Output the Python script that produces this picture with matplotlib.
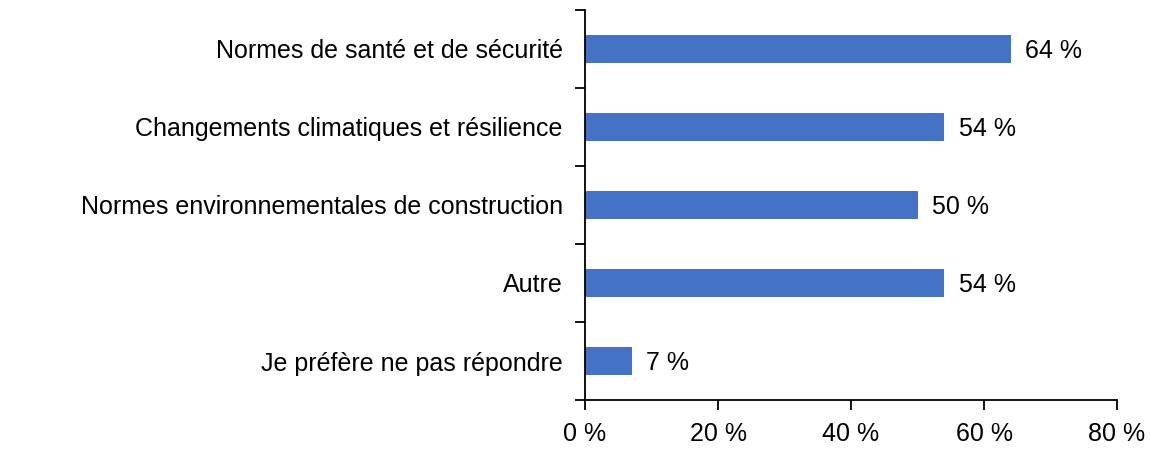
import matplotlib
matplotlib.use("Agg")
import matplotlib.pyplot as plt
from matplotlib.ticker import FixedLocator

categories = ["Normes de santé et de sécurité",
              "Changements climatiques et résilience",
              "Normes environnementales de construction",
              "Autre",
              "Je préfère ne pas répondre"]
values = [64, 54, 50, 54, 7]
xticks = [0, 20, 40, 60, 80]
xtick_labels = ["0 %", "20 %", "40 %", "60 %", "80 %"]

plt.rcParams['font.family'] = ['Liberation Sans', 'DejaVu Sans']
FS = 18

fig = plt.figure(figsize=(11.7, 4.68), dpi=100)
ax = fig.add_axes([585/1170, 68/468, 532/1170, 390/468])

n = len(categories)
ypos = list(range(n))
ax.barh(ypos, values, height=0.35, color="#4472C4")
for y, v in zip(ypos, values):
    ax.text(v + 2.2, y, f"{v} %", va="center_baseline", ha="left", fontsize=FS, color="black")

ax.set_xlim(0, 80)
ax.set_ylim(n - 0.5, -0.5)
ax.set_xticks(xticks)
ax.set_xticklabels(xtick_labels, fontsize=FS)
ax.yaxis.set_major_locator(FixedLocator([i - 0.5 for i in range(n + 1)]))
ax.yaxis.set_major_formatter(plt.NullFormatter())
ax.yaxis.set_minor_locator(FixedLocator(ypos))
ax.set_yticklabels(categories, minor=True, fontsize=FS)
for lbl in ax.get_yticklabels(minor=True):
    lbl.set_verticalalignment("center_baseline")
ax.tick_params(axis='y', which='minor', length=0, pad=16)
ax.tick_params(axis='y', which='major', length=7, width=1.3, direction='out')
ax.tick_params(axis='x', length=7, width=1.3, direction='out', pad=9)
for s in ['top', 'right']:
    ax.spines[s].set_visible(False)
for s in ['left', 'bottom']:
    ax.spines[s].set_linewidth(1.3)

fig.savefig("out.png", dpi=100)
